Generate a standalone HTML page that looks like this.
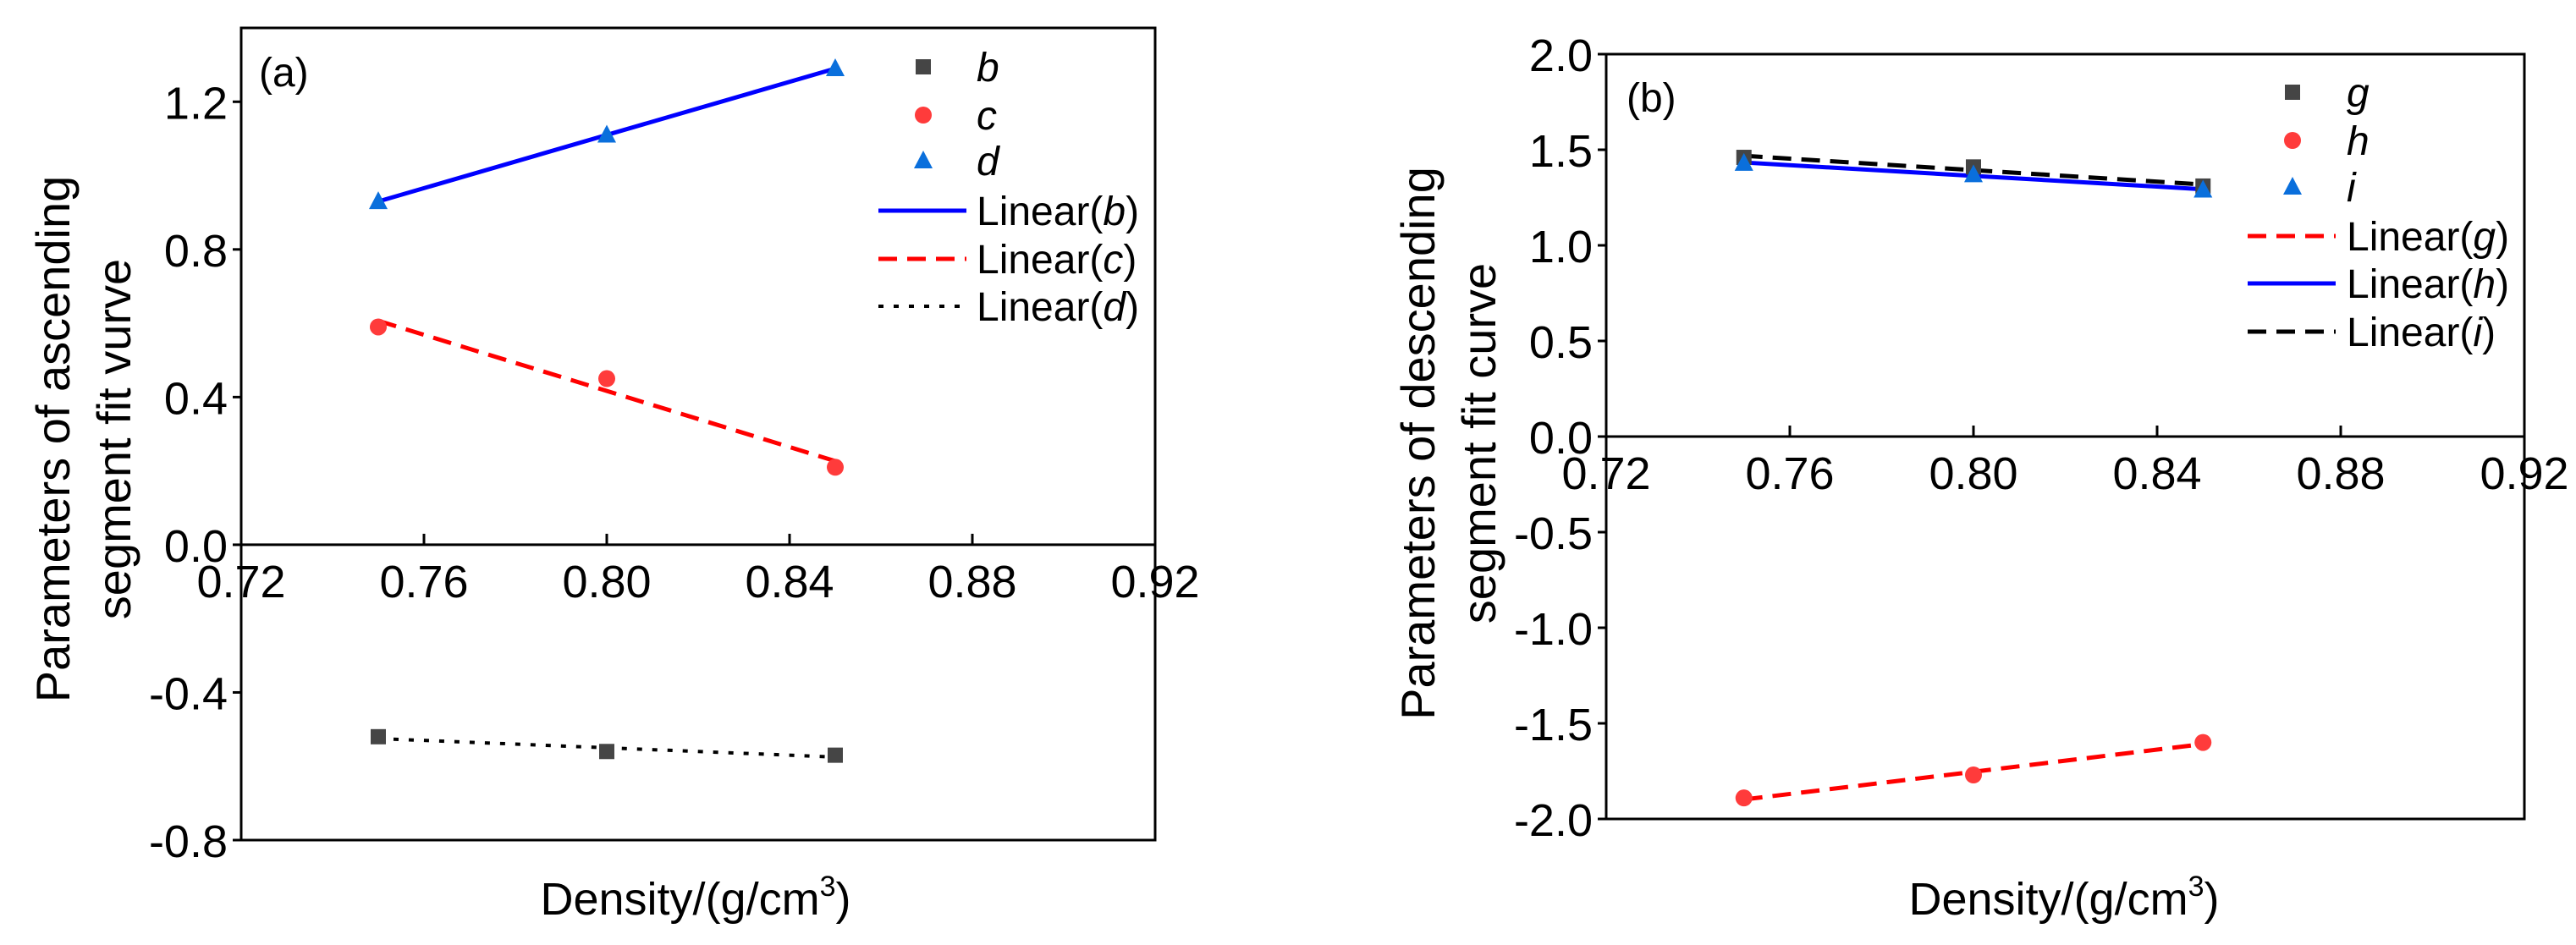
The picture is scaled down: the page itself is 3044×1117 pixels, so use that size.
<!DOCTYPE html>
<html><head><meta charset="utf-8"><style>
html,body{margin:0;padding:0;background:#fff;overflow:hidden;}
svg{display:block;font-family:"Liberation Sans",Arial,sans-serif;}
</style></head><body>
<svg id="fig" width="3044" height="1117" viewBox="0 0 3044 1117" xmlns="http://www.w3.org/2000/svg"></svg>
<script>
// ---------- Data ----------
const densities = [0.75, 0.80, 0.85];
const xTicks = [0.72, 0.76, 0.80, 0.84, 0.88, 0.92];
const xTickLabels = ["0.72","0.76","0.80","0.84","0.88","0.92"];
// panel (a)
const aTicks = [-0.8, -0.4, 0.0, 0.4, 0.8, 1.2];
const aTickLabels = ["-0.8","-0.4","0.0","0.4","0.8","1.2"];
const seriesB = [-0.52, -0.56, -0.57];
const seriesC = [0.59, 0.45, 0.21];
const seriesD = [0.93, 1.11, 1.29];
// panel (b)
const bTicks = [-2.0, -1.5, -1.0, -0.5, 0.0, 0.5, 1.0, 1.5, 2.0];
const bTickLabels = ["-2.0","-1.5","-1.0","-0.5","0.0","0.5","1.0","1.5","2.0"];
const seriesG = [1.46, 1.41, 1.31];
const seriesH = [-1.89, -1.77, -1.60];
const seriesI = [1.43, 1.37, 1.29];

const NS = "http://www.w3.org/2000/svg";
const svg = document.getElementById("fig");
function el(tag, attrs, parent, text){
  const e = document.createElementNS(NS, tag);
  for (const k in attrs) e.setAttribute(k, attrs[k]);
  if (text !== undefined) e.textContent = text;
  (parent || svg).appendChild(e);
  return e;
}
function fit(xs, ys){
  const n = xs.length; let mx=0,my=0; for(let i=0;i<n;i++){mx+=xs[i];my+=ys[i];} mx/=n; my/=n;
  let sxy=0,sxx=0; for(let i=0;i<n;i++){sxy+=(xs[i]-mx)*(ys[i]-my); sxx+=(xs[i]-mx)*(xs[i]-mx);}
  const k = sxy/sxx; return x => my + k*(x-mx);
}
function stext(x, y, size, anchor, parent, parts){
  const t = el("text", {x:x, y:y, "font-size":size, "text-anchor":anchor||"start", fill:"#000"}, parent);
  if (parts) parts.forEach(p => el("tspan", p[1] ? {"font-style":"italic"} : {}, t, p[0]));
  return t;
}
function marker(type, cx, cy, color, parent){
  if (type === "square") return el("rect", {x:cx-9, y:cy-9, width:18, height:18, fill:color}, parent);
  if (type === "circle") return el("circle", {cx:cx, cy:cy, r:10, fill:color}, parent);
  return el("polygon", {points:`${cx-11},${cy+9} ${cx+11},${cy+9} ${cx},${cy-12}`, fill:color}, parent);
}

function panel(cfg){
  const g = el("g", {});
  
  
  const X = v => cfg.L + (v - 0.72) / 0.2 * (cfg.R - cfg.L);
  const Y = v => cfg.B - (v - cfg.ymin) / (cfg.ymax - cfg.ymin) * (cfg.B - cfg.T);
  const fr = el("rect", {x:cfg.L, y:cfg.T, width:cfg.R-cfg.L, height:cfg.B-cfg.T, fill:"none", stroke:"#000", "stroke-width":3}, g);
  
  
  const y0 = Y(0);
  const xa = el("line", {x1:cfg.L, x2:cfg.R, y1:y0, y2:y0, stroke:"#000", "stroke-width":3}, g);
  
  
  xTicks.forEach((v,i)=>{
    el("line", {x1:X(v), x2:X(v), y1:y0, y2:y0-13, stroke:"#000", "stroke-width":3}, g);
    const t = stext(X(v), y0 + 62, 54, "middle", g);
    t.textContent = xTickLabels[i];
    
    
  });
  cfg.yTicks.forEach((v,i)=>{
    el("line", {x1:cfg.L, x2:cfg.L-10, y1:Y(v), y2:Y(v), stroke:"#000", "stroke-width":3}, g);
    const t = stext(cfg.L-16, Y(v)+20, 54, "end", g);
    t.textContent = cfg.yLabels[i];
    
    
  });
  cfg.lines.forEach(s=>{
    const f = fit(densities, s.data);
    const ln = el("line", {x1:X(densities[0]), y1:Y(f(densities[0])), x2:X(densities[2]), y2:Y(f(densities[2])), stroke:s.color, "stroke-width":s.w||5, "stroke-dasharray":s.dash||"none"}, g);
    
    
  });
  cfg.points.forEach(s=>{
    s.data.forEach((v,i)=>{
      const m = marker(s.type, X(densities[i]), Y(v), s.color, g);
      
      
    });
  });
  const lg = el("g", {}, g);
  
  
  cfg.legend.forEach((it,i)=>{
    const y = cfg.legY[i];
    const row = el("g", {}, lg);
    
    
    if (it.type) marker(it.type, cfg.legMX, y, it.color, row);
    else el("line", {x1:cfg.legL1, x2:cfg.legL2, y1:y, y2:y, stroke:it.color, "stroke-width":it.w||5, "stroke-dasharray":it.dash||"none"}, row);
    stext(cfg.legTX, y+17, 48, "start", row, it.parts);
  });
  const pl = stext(cfg.labX, cfg.labY, 48, "start", g);
  pl.textContent = cfg.label;
  
  
  const xt = stext(cfg.xtX, cfg.xtY, 54, "middle", g);
  
  
  el("tspan", {}, xt, "Density/(g/cm");
  el("tspan", {dy:-22, "font-size":34}, xt, "3");
  el("tspan", {dy:22}, xt, ")");
  cfg.yTitle.forEach((line,i)=>{
    const t = el("text", {x:0, y:0, "font-size":56, "text-anchor":"middle", fill:"#000", transform:`translate(${cfg.ytX[i]},${cfg.ytY}) rotate(-90)`}, g, line);
    
    
  });
}

panel({
  name:"panel-a", L:285, R:1365, T:33, B:993, ymin:-0.8, ymax:1.4,
  yTicks:aTicks, yLabels:aTickLabels,
  lines:[
    {data:seriesD, color:"#0000ff", lname:"linear-b-line"},
    {data:seriesC, color:"#ff0000", dash:"22 12", lname:"linear-c-line"},
    {data:seriesB, color:"#000", dash:"6 12", w:4, lname:"linear-d-line"}
  ],
  points:[
    {data:seriesB, type:"square", color:"#454545", pname:"point-b"},
    {data:seriesC, type:"circle", color:"#ff3b3b", pname:"point-c"},
    {data:seriesD, type:"triangle", color:"#0a6fdc", pname:"point-d"}
  ],
  legend:[
    {type:"square", color:"#454545", parts:[["b",1]]},
    {type:"circle", color:"#ff3b3b", parts:[["c",1]]},
    {type:"triangle", color:"#0a6fdc", parts:[["d",1]]},
    {color:"#0000ff", parts:[["Linear(",0],["b",1],[")",0]]},
    {color:"#ff0000", dash:"22 12", parts:[["Linear(",0],["c",1],[")",0]]},
    {color:"#000", dash:"6 12", w:4, parts:[["Linear(",0],["d",1],[")",0]]}
  ],
  legY:[79,136,190,249,306,362], legMX:1091, legL1:1038, legL2:1142, legTX:1154,
  label:"(a)", labX:306, labY:102,
  xtX:822, xtY:1081,
  yTitle:["Parameters of ascending","segment fit vurve"], ytX:[82,154], ytY:519
});

panel({
  name:"panel-b", L:1898, R:2983, T:64, B:968, ymin:-2.0, ymax:2.0,
  yTicks:bTicks, yLabels:bTickLabels,
  lines:[
    {data:seriesH, color:"#ff0000", dash:"22 12", lname:"linear-g-line"},
    {data:seriesI, color:"#0000ff", lname:"linear-h-line"},
    {data:seriesG, color:"#000", dash:"22 12", lname:"linear-i-line"}
  ],
  points:[
    {data:seriesG, type:"square", color:"#454545", pname:"point-g"},
    {data:seriesH, type:"circle", color:"#ff3b3b", pname:"point-h"},
    {data:seriesI, type:"triangle", color:"#0a6fdc", pname:"point-i"}
  ],
  legend:[
    {type:"square", color:"#454545", parts:[["g",1]]},
    {type:"circle", color:"#ff3b3b", parts:[["h",1]]},
    {type:"triangle", color:"#0a6fdc", parts:[["i",1]]},
    {color:"#ff0000", dash:"22 12", parts:[["Linear(",0],["g",1],[")",0]]},
    {color:"#0000ff", parts:[["Linear(",0],["h",1],[")",0]]},
    {color:"#000", dash:"22 12", parts:[["Linear(",0],["i",1],[")",0]]}
  ],
  legY:[109,166,221,279,335,392], legMX:2709, legL1:2656, legL2:2760, legTX:2773,
  label:"(b)", labX:1922, labY:132,
  xtX:2439, xtY:1081,
  yTitle:["Parameters of descending","segment fit curve"], ytX:[1695,1767], ytY:524
});
</script>
</body></html>
